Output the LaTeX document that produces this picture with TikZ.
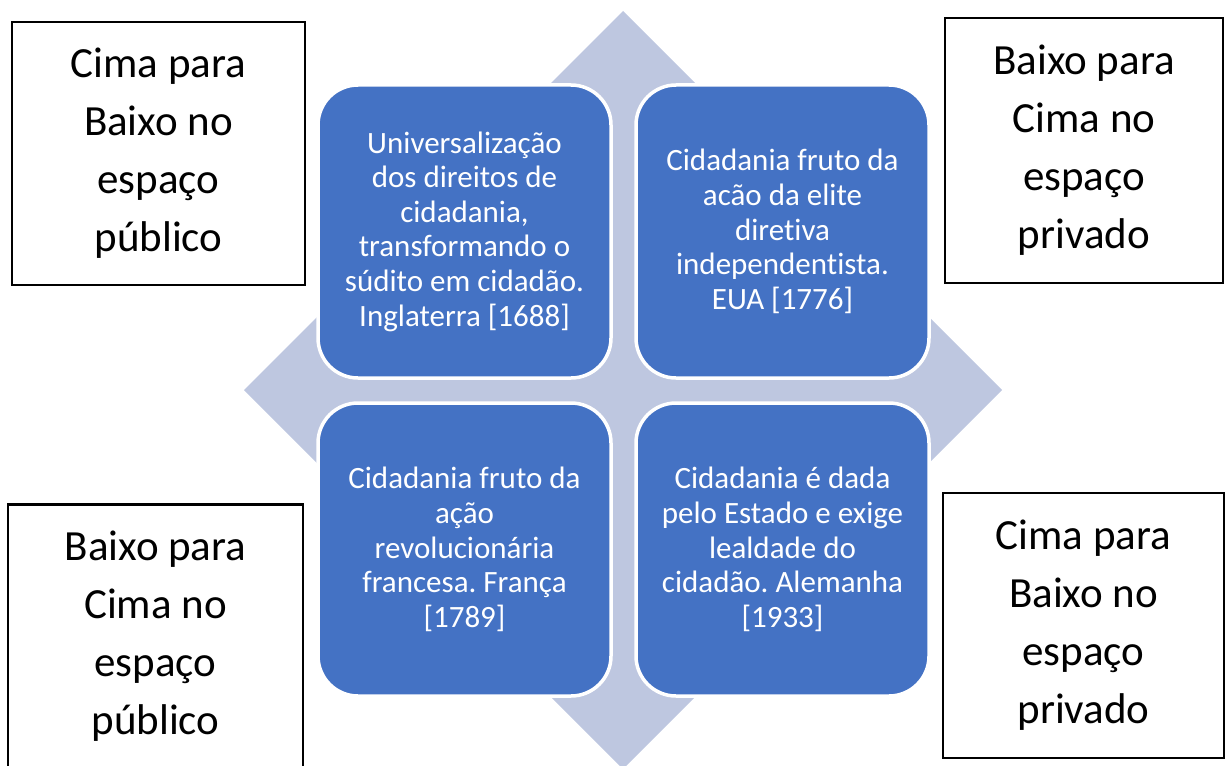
\documentclass[tikz,border=0pt]{standalone}
\usepackage{fontspec}
\setmainfont{Carlito}[Ligatures=NoCommon]
\usepackage{xcolor}
\usetikzlibrary{positioning}
\definecolor{quadblue}{RGB}{68,114,196}
\definecolor{diamondgray}{RGB}{190,199,224}
\frenchspacing

\begin{document}
\begin{tikzpicture}[x=1pt, y=-1pt,
    quad/.style={draw=white, line width=3.5pt, fill=quadblue, rounded corners=40pt,
        minimum width=293pt, minimum height=293pt, inner sep=0pt,
        align=center, text=white, font=\fontsize{31}{34.6}\selectfont},
    sidebox/.style={draw=black, line width=2.8pt, fill=white, inner sep=0pt,
        align=center, font=\fontsize{43}{58}\selectfont}]
    \useasboundingbox (0,0) rectangle (1225,765);

    % Background diamond
    \fill[diamondgray] (623,11) -- (1002,390) -- (623,769) -- (244,390) -- cycle;

    % Four quadrants
    \node[quad] (eng) at (464.5,231.5) {Universalização\\dos direitos de\\cidadania,\\transformando o\\súdito em cidadão.\\Inglaterra [1688]};
    \node[quad] (usa) at (782.5,231.5) {Cidadania fruto da\\acão da elite\\diretiva\\independentista.\\EUA [1776]};
    \node[quad] (fra) at (464.5,549.5) {Cidadania fruto da\\ação\\revolucionária\\francesa. França\\{[1789]}};
    \node[quad] (ger) at (782.5,549.5) {Cidadania é dada\\pelo Estado e exige\\lealdade do\\cidadão. Alemanha\\{[1933]}};

    % Corner boxes
    \node[sidebox, minimum width=293pt, minimum height=263pt] (pubdown) at (158.5,153.5) {Cima para\\Baixo no\\espaço\\público};
    \node[sidebox, minimum width=278pt, minimum height=265pt] (privup) at (1084,150.5) {Baixo para\\Cima no\\espaço\\privado};
    \node[sidebox, minimum width=295pt, minimum height=263pt] (pubup) at (155.5,636) {Baixo para\\Cima no\\espaço\\público};
    \node[sidebox, minimum width=281pt, minimum height=265pt] (privdown) at (1083.5,625.5) {Cima para\\Baixo no\\espaço\\privado};
\end{tikzpicture}
\end{document}
